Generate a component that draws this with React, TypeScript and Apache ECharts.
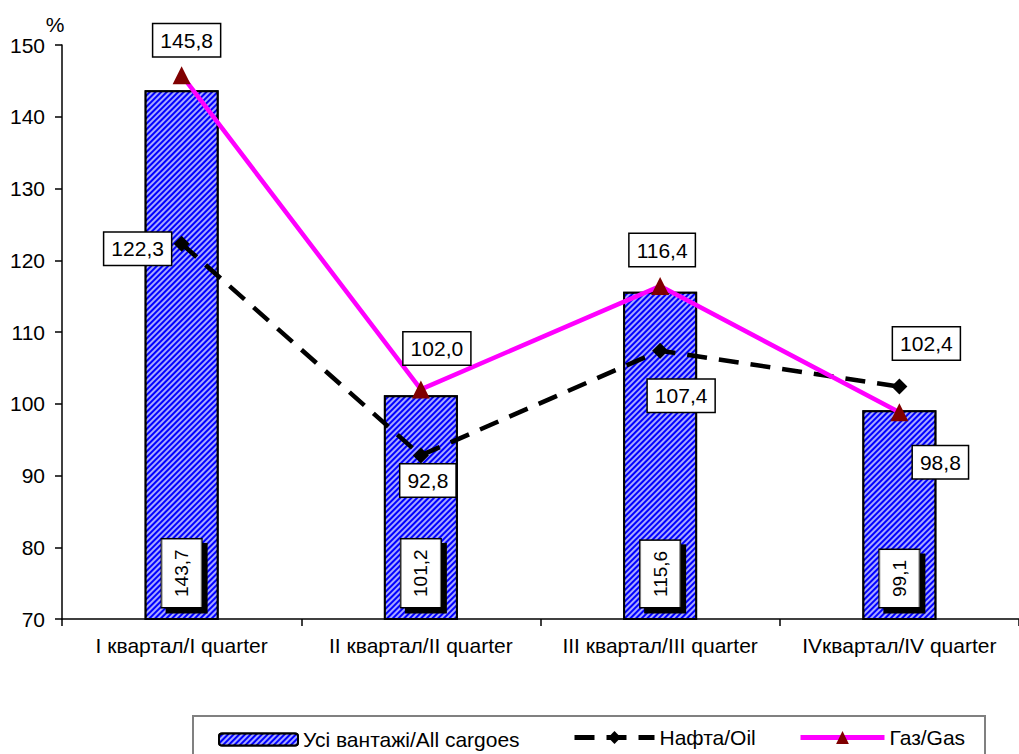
import React, { useEffect, useRef } from 'react';
import * as echarts from 'echarts';

const categories = ['I квартал/I quarter', 'II квартал/II quarter', 'III квартал/III quarter', 'IVквартал/IV quarter'];
const allCargoes = [143.7, 101.2, 115.6, 99.1];
const oil = [122.3, 92.8, 107.4, 102.4];
const gas = [145.8, 102.0, 116.4, 98.8];

const seriesNames = ['Усі вантажі/All cargoes', 'Нафта/Oil', 'Газ/Gas'];

// label placement offsets (styling, not data)
const oilLabelOffsets = [[-44, 5], [7, 25], [21, 45], [27, -43]];
const gasLabelOffsets = [[5, -35], [16, -41], [2, -36], [41, 50]];

const FONT = '"Liberation Sans", Arial, sans-serif';
const FS = 21;
const fmt = (v: number) => v.toFixed(1).replace('.', ',');

const boxLabel = {
  show: true,
  position: 'inside',
  color: '#000',
  fontSize: FS,
  fontFamily: FONT,
  backgroundColor: '#fff',
  borderColor: '#000',
  borderWidth: 1.5,
  padding: [6, 7, 5, 7],
  formatter: (p: any) => fmt(p.value),
};

const legendText = { color: '#000', fontSize: FS, fontFamily: FONT };

export default function App() {
  const ref = useRef<HTMLDivElement>(null);
  useEffect(() => {
    if (!ref.current) return;
    const chart = echarts.init(ref.current, undefined, { renderer: 'svg' });
    chart.setOption({
      animation: false,
      backgroundColor: '#fff',
      textStyle: { fontFamily: FONT },
      grid: { left: 62, right: -9, top: 45, bottom: 135 },
      xAxis: {
        type: 'category',
        data: categories,
        axisLine: { lineStyle: { color: '#000', width: 1.5 } },
        axisTick: { show: true, alignWithLabel: false, length: 7, lineStyle: { color: '#000', width: 1.5 } },
        axisLabel: { color: '#000', fontSize: FS, margin: 16, fontFamily: FONT, interval: 0 },
      },
      yAxis: {
        type: 'value',
        min: 70,
        max: 150,
        interval: 10,
        splitLine: { show: false },
        axisLine: { show: true, lineStyle: { color: '#000', width: 1.5 } },
        axisTick: { show: true, length: 7, lineStyle: { color: '#000', width: 1.5 } },
        axisLabel: { color: '#000', fontSize: FS, margin: 17, fontFamily: FONT },
      },
      legend: [
        {
          data: [seriesNames[0]], left: 218, top: 729, itemWidth: 79, itemHeight: 12, itemGap: 0,
          padding: 0, textStyle: legendText,
        },
        {
          data: [seriesNames[1]], left: 572, top: 727, itemWidth: 80, itemHeight: 16, itemGap: 0,
          padding: 0, textStyle: legendText, lineStyle: { width: 5 },
        },
        {
          data: [seriesNames[2]], left: 798, top: 727, itemWidth: 84, itemHeight: 16, itemGap: 0,
          padding: 0, textStyle: legendText, lineStyle: { width: 5 },
        },
      ],
      graphic: [
        {
          type: 'rect',
          shape: { x: 193, y: 716, width: 792, height: 60 },
          style: { fill: 'none', stroke: '#808080', lineWidth: 2 },
          silent: true,
        },
        {
          type: 'text',
          x: 55, y: 24,
          style: { text: '%', fontSize: FS, fontFamily: FONT, fill: '#000', align: 'center', verticalAlign: 'middle' },
        },
      ],
      series: [
        {
          name: seriesNames[0],
          type: 'bar',
          data: allCargoes,
          barWidth: 74,
          itemStyle: {
            color: '#0000ff',
            borderColor: '#000',
            borderWidth: 2,
            decal: {
              symbol: 'rect',
              symbolSize: 1,
              dashArrayX: [1, 0],
              dashArrayY: [2, 2],
              rotation: -Math.PI / 4,
              color: '#a8a8ff',
            },
          },
          label: {
            show: true,
            position: 'insideBottom',
            distance: 13,
            rotate: 90,
            align: 'left',
            verticalAlign: 'middle',
            color: '#000',
            fontSize: 19,
            fontFamily: FONT,
            backgroundColor: '#fff',
            borderColor: '#000',
            borderWidth: 1.5,
            padding: [10, 10, 10, 10],
            shadowColor: '#000',
            shadowBlur: 0,
            shadowOffsetX: -5,
            shadowOffsetY: 5,
            formatter: (p: any) => fmt(p.value),
          },
          z: 1,
        },
        {
          name: seriesNames[1],
          type: 'line',
          data: oil.map((v, i) => ({
            value: v,
            label: { ...boxLabel, offset: oilLabelOffsets[i] },
          })),
          symbol: 'diamond',
          symbolSize: 16,
          itemStyle: { color: '#000' },
          lineStyle: { color: '#000', width: 4.5, type: [20, 12] },
          label: boxLabel,
          z: 3,
        },
        {
          name: seriesNames[2],
          type: 'line',
          data: gas.map((v, i) => ({
            value: v,
            label: { ...boxLabel, offset: gasLabelOffsets[i] },
          })),
          symbol: 'triangle',
          symbolSize: 18,
          itemStyle: { color: '#800000' },
          lineStyle: { color: '#ff00ff', width: 4.5 },
          label: boxLabel,
          z: 4,
        },
      ],
    });
    return () => chart.dispose();
  }, []);
  return <div ref={ref} style={{ width: 1019, height: 754, position: 'absolute', left: 0, top: 0 }} />;
}
